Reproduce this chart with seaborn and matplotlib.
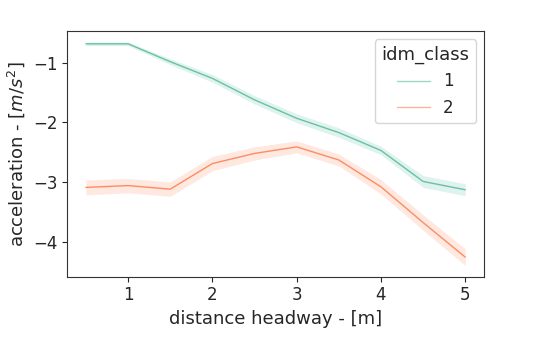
import numpy as np
import pandas as pd
import matplotlib
matplotlib.use("Agg")
import matplotlib.pyplot as plt
import seaborn as sns

headway = [0.5, 1.0, 1.5, 2.0, 2.5, 3.0, 3.5, 4.0, 4.5, 5.0]

# mean acceleration per idm class
acc_class1 = [-0.68, -0.68, -0.98, -1.26, -1.62, -1.93, -2.17, -2.47, -2.99, -3.13]
acc_class2 = [-3.09, -3.06, -3.12, -2.69, -2.52, -2.41, -2.63, -3.08, -3.68, -4.26]

# half width of the confidence band
ci_class1 = [0.03, 0.03, 0.05, 0.065, 0.07, 0.075, 0.08, 0.07, 0.10, 0.10]
ci_class2 = [0.125, 0.12, 0.12, 0.12, 0.11, 0.10, 0.10, 0.12, 0.13, 0.14]

df = pd.DataFrame({
    "distance_headway": headway * 2,
    "acceleration": acc_class1 + acc_class2,
    "lo": list(np.subtract(acc_class1, ci_class1)) + list(np.subtract(acc_class2, ci_class2)),
    "hi": list(np.add(acc_class1, ci_class1)) + list(np.add(acc_class2, ci_class2)),
    "idm_class": [1] * len(headway) + [2] * len(headway),
})

sns.set_style("ticks")
plt.rcParams["font.family"] = ["DejaVu Sans"]
palette = sns.color_palette("Set2", 2)

fig = plt.figure(figsize=(5.38, 3.63), dpi=100)
ax = fig.add_axes([0.1245, 0.238, 0.7755, 0.677])

sns.lineplot(data=df, x="distance_headway", y="acceleration", hue="idm_class",
             palette=palette, errorbar=None, linewidth=1, ax=ax)

for i, (cls, grp) in enumerate(df.groupby("idm_class")):
    ax.fill_between(grp["distance_headway"], grp["lo"], grp["hi"],
                    color=palette[i], alpha=0.2, linewidth=0)

for side in ["top", "right", "left", "bottom"]:
    ax.spines[side].set_visible(True)
    ax.spines[side].set_color("#333333")

ax.set_xlabel("distance headway - [m]", fontsize=13)
ax.set_ylabel("acceleration - [$m/s^2$]", fontsize=13)
ax.tick_params(labelsize=12)
ax.set_xticks([1, 2, 3, 4, 5])
ax.set_yticks([-1, -2, -3, -4])
ax.margins(x=0.05, y=0.05)
leg = ax.legend(title="idm_class", fontsize=12, title_fontsize=13, loc="upper right")
for h in leg.get_lines():
    h.set_alpha(0.65)

fig.savefig("out.png", dpi=100)
